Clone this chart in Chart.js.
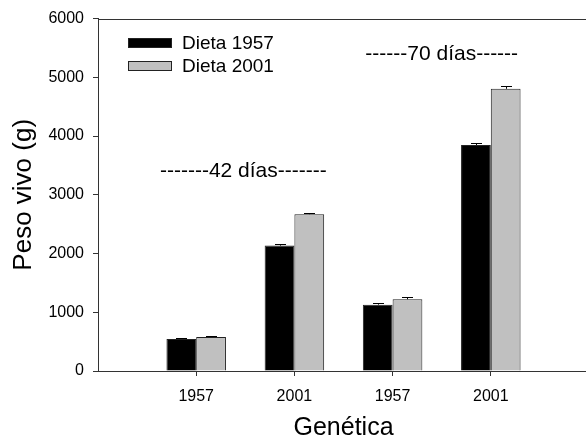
<!DOCTYPE html>
<html>
<head>
<meta charset="utf-8">
<script src="https://cdn.jsdelivr.net/npm/chart.js@4/dist/chart.umd.min.js"></script>
<style>
html,body{margin:0;padding:0;background:#fff;overflow:hidden;width:586px;height:441px;}
#wrap{position:absolute;left:0;top:0;width:600px;height:441px;}
</style>
</head>
<body>
<div id="wrap"><canvas id="c" width="600" height="441"></canvas></div>
<script>
// ---- data ----
const categories = ['', '1957', '2001', '1957', '2001', ''];
const seriesNames = ['Dieta 1957', 'Dieta 2001'];
const dieta1957 = [null, 546, 2135, 1130, 3848, null];
const dieta2001 = [null, 580, 2670, 1222, 4805, null];
const err1957 = [0, 15, 20, 35, 35, 0];
const err2001 = [0, 20, 15, 45, 40, 0];
const yTicks = [0, 1000, 2000, 3000, 4000, 5000, 6000];
const periodLabels = ['-------42 días-------', '------70 días------'];
const periodX = [1.48, 3.5];
const periodY = [3400, 5400];
const xTitle = 'Genética';
const yTitle = 'Peso vivo (g)';

const FONT = '"Liberation Sans", Arial, Helvetica, sans-serif';
const errs = [err1957, err2001];

const extras = {
  id: 'extras',
  afterDatasetsDraw(chart) {
    const ctx = chart.ctx;
    const xs = chart.scales.x, ys = chart.scales.y;
    const a = chart.chartArea;
    ctx.save();
    // top frame line
    ctx.strokeStyle = '#333';
    ctx.lineWidth = 1;
    ctx.beginPath();
    ctx.moveTo(a.left, Math.round(a.top) + 0.5);
    ctx.lineTo(a.right, Math.round(a.top) + 0.5);
    ctx.stroke();
    // error bars (upward)
    ctx.strokeStyle = '#000';
    chart.data.datasets.forEach((ds, di) => {
      const meta = chart.getDatasetMeta(di);
      meta.data.forEach((bar, i) => {
        const v = ds.data[i];
        if (v == null) return;
        const e = errs[di][i];
        const x = Math.round(bar.x) + 0.5;
        const yTop = ys.getPixelForValue(v);
        const yE = Math.round(ys.getPixelForValue(v + e)) + 0.5;
        ctx.beginPath();
        ctx.moveTo(x, yTop);
        ctx.lineTo(x, yE);
        ctx.moveTo(x - 5.5, yE);
        ctx.lineTo(x + 5.5, yE);
        ctx.stroke();
      });
    });
    // period annotations
    ctx.fillStyle = '#000';
    ctx.font = '21px ' + FONT;
    ctx.textAlign = 'center';
    ctx.textBaseline = 'middle';
    periodLabels.forEach((t, i) => {
      ctx.fillText(t, xs.getPixelForValue(periodX[i]), ys.getPixelForValue(periodY[i]));
    });
    // legend
    const lx = 128, ly = [38, 61];
    ctx.font = '19px ' + FONT;
    ctx.textAlign = 'left';
    chart.data.datasets.forEach((ds, di) => {
      ctx.fillStyle = ds.backgroundColor;
      ctx.fillRect(lx, ly[di], 44, 10);
      ctx.strokeStyle = '#222';
      ctx.strokeRect(lx + 0.5, ly[di] + 0.5, 43, 9);
      ctx.fillStyle = '#000';
      ctx.fillText(ds.label, 182, ly[di] + 6);
    });
    ctx.restore();
  }
};

new Chart(document.getElementById('c'), {
  type: 'bar',
  data: {
    labels: categories,
    datasets: [
      { label: seriesNames[0], data: dieta1957, backgroundColor: '#000000', borderColor: '#222', borderWidth: 1 },
      { label: seriesNames[1], data: dieta2001, backgroundColor: '#c0c0c0', borderColor: '#222', borderWidth: 1 }
    ]
  },
  options: {
    responsive: false,
    animation: false,
    events: [],
    layout: { padding: { top: 16, right: 7, left: 0, bottom: 0 } },
    datasets: { bar: { categoryPercentage: 0.606, barPercentage: 1.0 } },
    plugins: { legend: { display: false }, tooltip: { enabled: false } },
    scales: {
      x: {
        offset: false,
        grid: {
          offset: false,
          drawOnChartArea: false,
          drawTicks: true,
          tickLength: 5,
          color: (c) => (c.tick && c.tick.label === '' ? 'rgba(0,0,0,0)' : '#333')
        },
        border: { display: true, color: '#333', width: 1 },
        ticks: { color: '#000', font: { family: FONT, size: 16 }, padding: 11, maxRotation: 0, autoSkip: false },
        title: { display: true, text: xTitle, color: '#000', font: { family: FONT, size: 25, lineHeight: 1.0 }, padding: { top: 4, bottom: 0 } },
        afterFit(s) { s.height = 70; }
      },
      y: {
        min: 0, max: 6000,
        afterBuildTicks(s) { s.ticks = yTicks.map(v => ({ value: v })); },
        grid: { drawOnChartArea: false, drawTicks: true, tickLength: 5, color: '#333' },
        border: { display: true, color: '#333', width: 1 },
        ticks: { color: '#000', font: { family: FONT, size: 16 }, padding: 9, callback: (v) => String(v) },
        title: { display: true, text: yTitle, color: '#000', font: { family: FONT, size: 26 }, padding: { top: 8, bottom: 0 } },
        afterFit(s) { s.width = 98; }
      }
    }
  },
  plugins: [extras]
});
</script>
</body>
</html>
